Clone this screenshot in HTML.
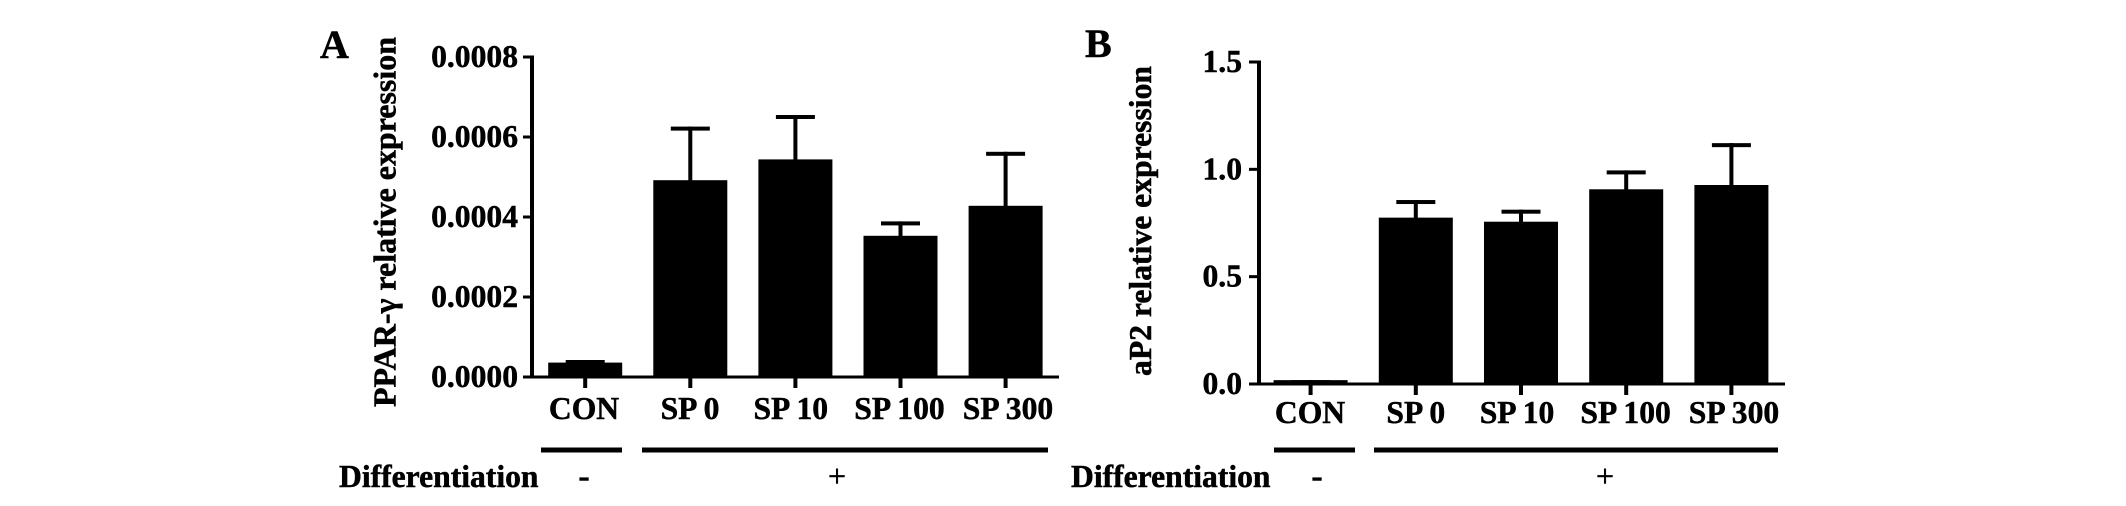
<!DOCTYPE html>
<html lang="en">
<head>
<meta charset="utf-8">
<title>PPAR-γ and aP2 relative expression</title>
<style>
html,body{margin:0;padding:0;background:#fff;}
svg{display:block;}
text{font-family:"Liberation Serif",serif;font-weight:bold;fill:#000;stroke:#000;stroke-width:0.5px;}
</style>
</head>
<body>
<svg id="chart" xmlns="http://www.w3.org/2000/svg" width="2126" height="506" viewBox="0 0 2126 506">
  <rect x="0" y="0" width="2126" height="506" fill="#fff"/>
  <text x="320" y="58" font-size="40">A</text>
  <text x="1085" y="57" font-size="40">B</text>
  <text transform="translate(395.5,407) rotate(-90)" font-size="32" textLength="370" lengthAdjust="spacingAndGlyphs">PPAR-γ relative expression</text>
  <text transform="translate(1151,376) rotate(-90)" font-size="32" textLength="310" lengthAdjust="spacingAndGlyphs">aP2 relative expression</text>
  <text x="339" y="487" font-size="31.6">Differentiation</text>
  <text x="1071" y="487" font-size="31.6">Differentiation</text>
  <text x="584" y="487" font-size="34" text-anchor="middle">-</text>
  <text x="837" y="487" font-size="32" text-anchor="middle" style="font-weight:normal">+</text>
  <text x="1317" y="487" font-size="34" text-anchor="middle">-</text>
  <text x="1605" y="487" font-size="32" text-anchor="middle" style="font-weight:normal">+</text>
  <rect x="541" y="447.5" width="81" height="5" fill="#000"/>
  <rect x="642" y="447.5" width="406" height="5" fill="#000"/>
  <rect x="1274" y="447.5" width="81" height="5" fill="#000"/>
  <rect x="1374" y="447.5" width="404" height="5" fill="#000"/>
</svg>
<script>
var categories = ['CON', 'SP 0', 'SP 10', 'SP 100', 'SP 300'];

var ppargMeans = [0.000036, 0.000492, 0.000544, 0.000353, 0.000428];
var ppargUpper = [0.0000425, 0.000626, 0.000655, 0.000389, 0.000563];
var ppargTicks = [0, 0.0002, 0.0004, 0.0006, 0.0008];
var ppargTickLabels = ['0.0000', '0.0002', '0.0004', '0.0006', '0.0008'];

var ap2Means = [0.018, 0.775, 0.756, 0.907, 0.927];
var ap2Upper = [0.018, 0.857, 0.812, 0.995, 1.122];
var ap2Ticks = [0, 0.5, 1.0, 1.5];
var ap2TickLabels = ['0.0', '0.5', '1.0', '1.5'];

var NS = 'http://www.w3.org/2000/svg';
var svg = document.getElementById('chart');

function add(tag, attrs, text) {
  var el = document.createElementNS(NS, tag);
  for (var k in attrs) el.setAttribute(k, attrs[k]);
  if (text !== undefined) el.textContent = text;
  svg.appendChild(el);
  return el;
}

function drawPanel(prefix, frame, means, upper, ticks, tickLabels) {
  var yScale = function (v) {
    return frame.y0 - (v / frame.yMax) * (frame.y0 - frame.y1);
  };
  var xScale = function (i) {
    return frame.x0 + i * frame.step;
  };
  var el;

  categories.forEach(function (cat, i) {
    var cx = xScale(i);
    var top = yScale(means[i]);
    var capY = yScale(upper[i]);

    el = add('rect', {x: cx - 2, y: capY, width: 4, height: top - capY + 1, fill: '#000'});
    
    

    el = add('rect', {x: cx - 19.5, y: capY, width: 39, height: 4, fill: '#000'});
    
    

    el = add('rect', {x: cx - 37, y: top, width: 74, height: frame.y0 - top, fill: '#000'});
    
    

    el = add('rect', {x: cx - 2, y: frame.y0, width: 4, height: 11, fill: '#000'});
    
    

    el = add('text', {x: cx + frame.labelNudge[i], y: frame.labelY, 'font-size': 31.6, 'text-anchor': 'middle'}, cat);
    
    
  });

  ticks.forEach(function (t, i) {
    var y = yScale(t);

    el = add('rect', {x: frame.axisX - frame.tickLen, y: y - 1.5, width: frame.tickLen, height: 3, fill: '#000'});
    
    

    el = add('text', {x: frame.axisX - frame.labelGap, y: y + 10, 'font-size': 31.6, 'text-anchor': 'end'}, tickLabels[i]);
    
    
  });

  el = add('rect', {x: frame.axisX - 2, y: yScale(frame.yMax) - 1.5, width: 4, height: frame.y0 - yScale(frame.yMax) + 3, fill: '#000'});
  
  

  el = add('rect', {x: frame.axisX - frame.tickLen, y: frame.y0 - 1.5, width: frame.axisEnd - frame.axisX + frame.tickLen, height: 3, fill: '#000'});
  
  
}

drawPanel('panel-a', {axisX: 532, axisEnd: 1059, tickLen: 9, labelGap: 14, y0: 377, y1: 57, yMax: 0.0008, x0: 585.2, step: 105.1, labelY: 419, labelNudge: [-1.2, -0.3, -4.6, -1, 2.4]},
  ppargMeans, ppargUpper, ppargTicks, ppargTickLabels);
drawPanel('panel-b', {axisX: 1259, axisEnd: 1785, tickLen: 10, labelGap: 17, y0: 384, y1: 62, yMax: 1.5, x0: 1310.6, step: 105.2, labelY: 423, labelNudge: [-0.6, 0, -4, -0.6, 2.6]},
  ap2Means, ap2Upper, ap2Ticks, ap2TickLabels);
</script>
</body>
</html>
